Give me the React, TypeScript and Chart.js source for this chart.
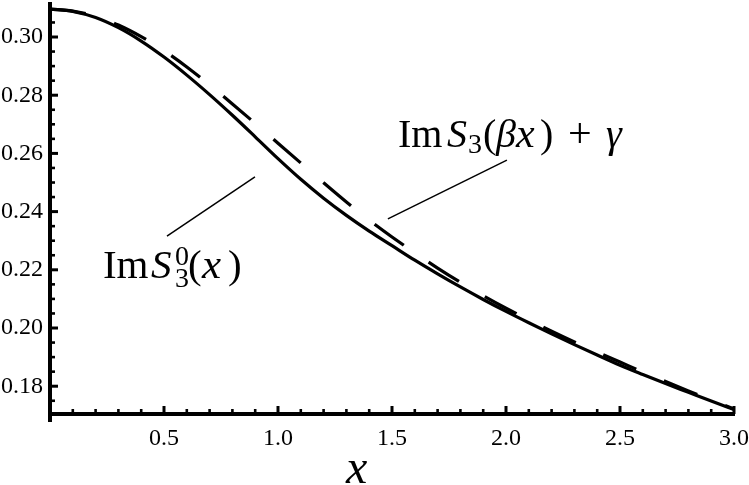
import React, { useEffect, useRef } from 'react';
import { Chart, registerables } from 'chart.js';

Chart.register(...registerables);

// ---- data ----
const xValues = [
  0.0, 0.1, 0.2, 0.3, 0.4, 0.5, 0.6, 0.7, 0.8, 0.9, 1.0,
  1.1, 1.2, 1.3, 1.4, 1.5, 1.6, 1.7, 1.8, 1.9, 2.0,
  2.1, 2.2, 2.3, 2.4, 2.5, 2.6, 2.7, 2.8, 2.9, 3.0,
];
// Im S3^0(x)  (solid)
const solidY = [
  0.3096, 0.3088, 0.3067, 0.3032, 0.2986, 0.2931, 0.2869, 0.2802, 0.2731, 0.2657, 0.2582,
  0.2511, 0.2446, 0.2387, 0.2333, 0.2283, 0.2233, 0.2186, 0.2141, 0.2098, 0.2057,
  0.2018, 0.1980, 0.1943, 0.1907, 0.1872, 0.1840, 0.1809, 0.1779, 0.1749, 0.1720,
];
// Im S3(beta x) + gamma  (dashed)
const dashedY = [
  0.3096, 0.3089, 0.3071, 0.3041, 0.3001, 0.2953, 0.2897, 0.2835, 0.2770, 0.2703, 0.2635,
  0.2567, 0.2499, 0.2433, 0.2371, 0.2313, 0.2258, 0.2206, 0.2157, 0.2111, 0.2068,
  0.2028, 0.1989, 0.1952, 0.1917, 0.1883, 0.1849, 0.1816, 0.1784, 0.1753, 0.1722,
];

const xMin = 0;
const xMax = 3;
const yMin = 0.17045;
const yMax = 0.31203;

const xMajorTicks = [0.5, 1.0, 1.5, 2.0, 2.5, 3.0];
const xTickLabels = ['0.5', '1.0', '1.5', '2.0', '2.5', '3.0'];
const xMinorTicks = [
  0.1, 0.2, 0.3, 0.4, 0.6, 0.7, 0.8, 0.9, 1.1, 1.2, 1.3, 1.4,
  1.6, 1.7, 1.8, 1.9, 2.1, 2.2, 2.3, 2.4, 2.6, 2.7, 2.8, 2.9,
];
const yMajorTicks = [0.18, 0.2, 0.22, 0.24, 0.26, 0.28, 0.3];
const yTickLabels = ['0.18', '0.20', '0.22', '0.24', '0.26', '0.28', '0.30'];
const yMinorTicks = [
  0.175, 0.185, 0.19, 0.195, 0.205, 0.21, 0.215, 0.225, 0.23, 0.235,
  0.245, 0.25, 0.255, 0.265, 0.27, 0.275, 0.285, 0.29, 0.295, 0.305,
];

// annotation callouts (data coordinates)
const calloutDashed = [[2.004, 0.2577], [1.482, 0.2375]];
const calloutSolid = [[0.899, 0.2519], [0.513, 0.2316]];
const labelDashedAnchor = [1.526, 0.2622];
const labelSolidAnchor = [0.232, 0.2172];
const axisTitleAnchor = [1.298, 0.1467];

const SERIF = '"Liberation Serif", "Times New Roman", serif';

type Run = { t: string; dx: number; dy: number; size: number; italic: boolean };

const labelDashedRuns: Run[] = [
  { t: 'Im', dx: 0, dy: 0, size: 40, italic: false },
  { t: 'S', dx: 49, dy: 0, size: 40, italic: true },
  { t: '3', dx: 70, dy: 6, size: 28, italic: false },
  { t: '(', dx: 85, dy: 0, size: 40, italic: false },
  { t: 'β', dx: 98, dy: 0, size: 40, italic: true },
  { t: 'x', dx: 118, dy: 0, size: 42, italic: true },
  { t: ')', dx: 142, dy: 0, size: 40, italic: false },
  { t: '+', dx: 170, dy: 0, size: 42, italic: false },
  { t: 'γ', dx: 208, dy: 0, size: 40, italic: true },
];
const labelSolidRuns: Run[] = [
  { t: 'Im', dx: 0, dy: 0, size: 41, italic: false },
  { t: 'S', dx: 48, dy: 0, size: 41, italic: true },
  { t: '0', dx: 72, dy: -13, size: 28, italic: false },
  { t: '3', dx: 72, dy: 9, size: 28, italic: false },
  { t: '(', dx: 85, dy: 0, size: 41, italic: false },
  { t: 'x', dx: 99, dy: 0, size: 43, italic: true },
  { t: ')', dx: 125, dy: 0, size: 41, italic: false },
];

function drawRuns(ctx: CanvasRenderingContext2D, runs: Run[], x: number, y: number) {
  ctx.fillStyle = '#000';
  ctx.textAlign = 'left';
  ctx.textBaseline = 'alphabetic';
  for (const r of runs) {
    ctx.font = `${r.italic ? 'italic ' : ''}${r.size}px ${SERIF}`;
    ctx.fillText(r.t, x + r.dx, y + r.dy);
  }
}

const axesPlugin = {
  id: 'mmaAxes',
  afterDraw(chart: any) {
    const ctx: CanvasRenderingContext2D = chart.ctx;
    const xs = chart.scales.x;
    const ys = chart.scales.y;
    const x0 = xs.getPixelForValue(xMin);
    const x1 = xs.getPixelForValue(xMax);
    const y0 = ys.getPixelForValue(yMin);
    const yTop = ys.getPixelForValue(yMax);
    ctx.save();
    ctx.strokeStyle = '#000';
    ctx.lineCap = 'butt';

    // axis lines
    ctx.lineWidth = 4;
    ctx.beginPath();
    ctx.moveTo(x0, yTop);
    ctx.lineTo(x0, y0 + 8);
    ctx.stroke();
    ctx.beginPath();
    ctx.moveTo(x0 - 2, y0);
    ctx.lineTo(x1 + 1, y0);
    ctx.stroke();

    // y ticks (pointing right)
    ctx.lineWidth = 3;
    for (const v of yMajorTicks) {
      const p = ys.getPixelForValue(v);
      ctx.beginPath();
      ctx.moveTo(x0, p);
      ctx.lineTo(x0 + 8, p);
      ctx.stroke();
    }
    ctx.lineWidth = 2.6;
    for (const v of yMinorTicks) {
      const p = ys.getPixelForValue(v);
      ctx.beginPath();
      ctx.moveTo(x0, p);
      ctx.lineTo(x0 + 5, p);
      ctx.stroke();
    }
    // x ticks (pointing up)
    ctx.lineWidth = 3;
    for (const v of xMajorTicks) {
      const p = xs.getPixelForValue(v);
      ctx.beginPath();
      ctx.moveTo(p, y0);
      ctx.lineTo(p, y0 - 8);
      ctx.stroke();
    }
    ctx.lineWidth = 2.6;
    for (const v of xMinorTicks) {
      const p = xs.getPixelForValue(v);
      ctx.beginPath();
      ctx.moveTo(p, y0);
      ctx.lineTo(p, y0 - 5);
      ctx.stroke();
    }

    // callout lines
    ctx.lineWidth = 1.5;
    for (const seg of [calloutDashed, calloutSolid]) {
      ctx.beginPath();
      ctx.moveTo(xs.getPixelForValue(seg[0][0]), ys.getPixelForValue(seg[0][1]));
      ctx.lineTo(xs.getPixelForValue(seg[1][0]), ys.getPixelForValue(seg[1][1]));
      ctx.stroke();
    }

    // labels
    drawRuns(ctx, labelDashedRuns, xs.getPixelForValue(labelDashedAnchor[0]), ys.getPixelForValue(labelDashedAnchor[1]));
    drawRuns(ctx, labelSolidRuns, xs.getPixelForValue(labelSolidAnchor[0]), ys.getPixelForValue(labelSolidAnchor[1]));

    // axis title
    ctx.font = `italic 48px ${SERIF}`;
    ctx.textAlign = 'left';
    ctx.textBaseline = 'alphabetic';
    ctx.fillText('x', xs.getPixelForValue(axisTitleAnchor[0]), ys.getPixelForValue(axisTitleAnchor[1]));
    ctx.restore();
  },
};

export default function App() {
  const ref = useRef<HTMLCanvasElement | null>(null);
  useEffect(() => {
    if (!ref.current) return;
    const chart = new Chart(ref.current, {
      type: 'line',
      data: {
        datasets: [
          {
            label: 'Im S3(βx) + γ',
            data: xValues.map((x, i) => ({ x, y: dashedY[i] })),
            borderColor: '#000',
            borderWidth: 3.2,
            borderDash: [36, 30],
            pointRadius: 0,
            fill: false,
            cubicInterpolationMode: 'monotone',
          },
          {
            label: 'Im S3^0(x)',
            data: xValues.map((x, i) => ({ x, y: solidY[i] })),
            borderColor: '#000',
            borderWidth: 3.2,
            pointRadius: 0,
            fill: false,
            cubicInterpolationMode: 'monotone',
          },
        ],
      },
      options: {
        animation: false,
        responsive: false,
        events: [],
        layout: { padding: { top: 2, right: 15, left: 0, bottom: 0 } },
        plugins: { legend: { display: false }, tooltip: { enabled: false } },
        scales: {
          x: {
            type: 'linear',
            min: xMin,
            max: xMax,
            grid: { display: false, drawTicks: false },
            border: { display: false },
            afterBuildTicks: (s: any) => {
              s.ticks = xMajorTicks.map((v) => ({ value: v }));
            },
            afterFit: (s: any) => {
              s.height = 71;
              s.paddingLeft = 0;
              s.paddingRight = 0;
            },
            ticks: {
              autoSkip: false,
              maxRotation: 0,
              padding: 10,
              color: '#000',
              font: { family: SERIF, size: 24 },
              callback: (v: any) => {
                const i = xMajorTicks.findIndex((t) => Math.abs(t - Number(v)) < 1e-9);
                return i >= 0 ? xTickLabels[i] : '';
              },
            },
          },
          y: {
            type: 'linear',
            min: yMin,
            max: yMax,
            grid: { display: false, drawTicks: false },
            border: { display: false },
            afterBuildTicks: (s: any) => {
              s.ticks = yMajorTicks.map((v) => ({ value: v }));
            },
            afterFit: (s: any) => {
              s.width = 50;
              s.paddingTop = 0;
              s.paddingBottom = 0;
            },
            ticks: {
              autoSkip: false,
              padding: 7,
              color: '#000',
              font: { family: SERIF, size: 24 },
              callback: (v: any) => {
                const i = yMajorTicks.findIndex((t) => Math.abs(t - Number(v)) < 1e-9);
                return i >= 0 ? yTickLabels[i] : '';
              },
            },
          },
        },
      },
      plugins: [axesPlugin],
    } as any);
    return () => chart.destroy();
  }, []);
  return (
    <div style={{ position: 'absolute', left: 0, top: 0, width: 749, height: 485, background: '#fff' }}>
      <canvas ref={ref} width={749} height={485} style={{ display: 'block', width: 749, height: 485 }} />
    </div>
  );
}
